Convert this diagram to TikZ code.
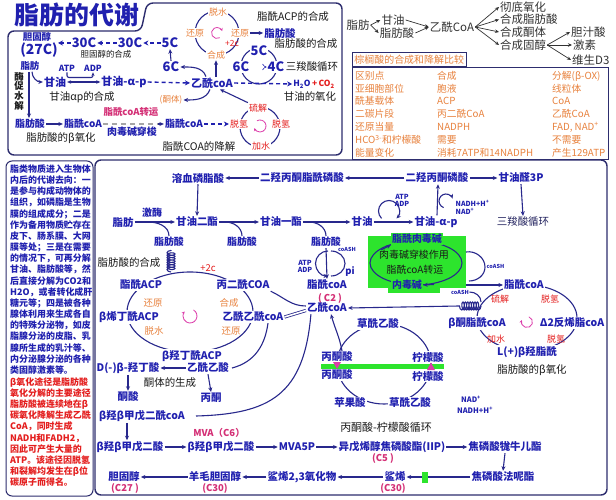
\documentclass[tikz,border=0pt]{standalone}
\usepackage{fontspec}
\setmainfont{Noto Sans CJK SC}
\usetikzlibrary{arrows.meta,calc,decorations.pathmorphing}
\definecolor{myblue}{RGB}{32,32,175}
\definecolor{lineblue}{RGB}{40,40,140}
\definecolor{myorange}{RGB}{232,130,62}
\definecolor{myred}{RGB}{228,30,30}
\definecolor{mypink}{RGB}{212,48,118}
\definecolor{mymag}{RGB}{220,60,170}
\definecolor{mygreen}{RGB}{45,228,45}
\definecolor{mytext}{RGB}{25,25,25}
\definecolor{mygray}{RGB}{50,50,50}
\definecolor{navy}{RGB}{35,35,95}
\definecolor{panelc}{RGB}{45,45,110}
\tikzset{
  bl/.style={text=myblue, font=\bfseries\fontsize{#1}{#1}\selectfont, inner sep=1bp},
  bl/.default=10.5,
  blk/.style={text=mytext, font=\fontsize{#1}{#1}\selectfont, inner sep=1bp},
  blk/.default=10.5,
  org/.style={text=myorange, font=\fontsize{#1}{#1}\selectfont, inner sep=1bp},
  org/.default=9,
  rd/.style={text=myred, font=\fontsize{#1}{#1}\selectfont, inner sep=1bp},
  rd/.default=9,
  pk/.style={text=mypink, font=\bfseries\fontsize{#1}{#1}\selectfont, inner sep=1bp},
  pk/.default=9.5,
  tn/.style={text=myblue, font=\bfseries\fontsize{#1}{#1}\selectfont, inner sep=0.5bp},
  tn/.default=6.5,
  gr/.style={text=mygray, font=\fontsize{11.5}{12}\selectfont, inner sep=1bp},
  tb/.style={text=myorange, font=\fontsize{9.8}{11}\selectfont, anchor=west, inner sep=0bp},
  lefttext/.style={font=\bfseries\fontsize{9}{11.2}\selectfont, align=left, anchor=north west, inner sep=0bp},
  conn/.style={draw=lineblue, line width=1.1bp},
  arr/.style={conn, -{Stealth[length=4.5bp,width=4bp]}},
  darr/.style={draw=myblue, line width=1.4bp, dash pattern=on 4bp off 3bp, -{Stealth[length=5bp,width=5bp]}},
  garr/.style={draw=mygray, line width=0.7bp, -{Stealth[length=4bp,width=3.5bp]}},
  panel/.style={draw=panelc, line width=1.4bp, rounded corners=6bp},
  magarr/.style={draw=mymag, line width=0.8bp, -{Stealth[length=3bp,width=3bp]}},
  dline/.style={draw=lineblue, double=white, double distance=1.6bp, line width=0.8bp},
  coilc/.style={conn, decorate, decoration={coil, aspect=0.45, segment length=2.4bp, amplitude=4bp}},
}
\begin{document}
\begin{tikzpicture}[x=1bp,y=1bp]
\useasboundingbox (0,0) rectangle (616,-500);
\fill[white] (0,0) rectangle (616,-500);

% ---------- panels ----------
\draw[panel] (8,-155) -- (8,-31) -- (141,-31) -- (147,-3) -- (342,-3) -- (342,-155) -- cycle;
\draw[panel] (95,-160) rectangle (607,-495);
\draw[panel, line width=1bp] (6,-161) rectangle (93,-496);

% ---------- title ----------
\node[bl=25] (title) at (77,-15) {脂肪的代谢};

% ---------- top-left panel ----------
\node[bl=9.5] (chol) at (37,-37) {胆固醇};
\node[bl=14] (c27) at (39,-50) {(27C)};
\node[bl=13] (c30a) at (84,-43) {30C};
\node[bl=13] (c30b) at (130,-43) {30C};
\node[bl=13] (c5) at (170,-43) {5C};
\node[blk=8.5] (cholsyn) at (106,-54) {胆固醇的合成};
\node[bl=13] (c6) at (171,-67) {6C};
\node[bl=9.5] (fat) at (30,-66) {脂肪};
\node[bl=8.5] (atp) at (67,-68) {ATP};
\node[bl=8.5] (adp) at (93,-68) {ADP};
\node[bl=11] (gly) at (55,-82) {甘油};
\node[bl=11] (glyp) at (124,-82) {甘油-α-p};
\node[bl=11] (acoa) at (212,-83) {乙酰coA};
\node[blk=10.5] (glypsyn) at (82,-97) {甘油αp的合成};
\node[text=mytext, font=\bfseries\fontsize{9.5}{9.7}\selectfont, align=center, inner sep=0bp] (enz) at (19,-91) {酶\\促\\水\\解};
\node[bl=10] (fa) at (30,-124) {脂肪酸};
\node[bl=10] (facoa1) at (83,-124) {脂酰coA};
\node[pk=9.5] (transp) at (131,-112) {脂酰coA转运};
\node[bl=10] (facoa2) at (184,-124) {脂酰coA};
\node[bl=10] (shuttle) at (132,-132) {肉毒碱穿梭};
\node[blk=10.5] (fabox) at (61,-138) {脂肪酸的β氧化};
\node[blk=10.5] (facoadeg) at (199,-147) {脂酰COA的降解};
\node[org=8.5] (ketone) at (171,-100) {(酮体)};

% fatty acid synthesis circle (top)
\draw[conn] (217,-33) circle [radius=22];
\node[org, fill=white] (dehyd) at (218,-12) {脱水};
\node[org, fill=white] (red1) at (195,-33) {还原};
\node[org, fill=white] (red2) at (240,-33) {还原};
\node[rd=8.5] (plus2c) at (232,-43) {+2c};
\node[org, fill=white] (syn) at (216,-55) {合成};
\draw[magarr] (217,-33) ++(300:5.5) arc[start angle=300, end angle=20, radius=5.5];
\node[bl=10.5] (fa2) at (280,-33) {脂肪酸};
\node[blk=10.5] (acpsyn) at (293,-17) {脂酰ACP的合成};
\node[blk=10.5] (fasyn) at (306,-44) {脂肪酸的合成};

% TCA small circle
\draw[conn] (259,-66) circle [radius=18];
\node[bl=13, fill=white] (t5c) at (259,-51) {5C};
\node[bl=13, fill=white] (t6c) at (241,-67) {6C};
\node[bl=13, fill=white] (t4c) at (276,-67) {4C};
\node[blk=10.5] (tca) at (312,-67) {三羧酸循环};
\node[bl=8.5] (h2o) at (314,-84) {H\textsubscript{2}O\,\textcolor{myred}{+\,CO\textsubscript{2}}};
\node[blk=10.5] (glyox) at (310,-97) {甘油的氧化};

% beta-oxidation circle (top)
\draw[conn] (260,-127) circle [radius=20];
\node[rd, fill=white] (thio) at (258,-108) {硫解};
\node[rd, fill=white] (tfdh1) at (239,-124) {脱氢};
\node[rd, fill=white] (tfdh2) at (281,-124) {脱氢};
\node[rd, fill=white] (hyd) at (261,-146) {加水};
\draw[magarr] (260,-126) ++(120:6) arc[start angle=120, end angle=-160, radius=6];

% top-left connectors
\draw[darr] (c30a.west) -- (58,-43);
\draw[darr] (c30b.west) -- (c30a.east);
\draw[darr] (c5.west) -- (c30b.east);
\draw[arr] (c6.north) -- (c5.south);
\draw[arr] ($(acoa.north)+(-6,0)$) to[out=110,in=0] (c6.east);
\draw[arr] ($(acoa.north)+(4,0)$) -- (syn.south);
\draw[arr] ($(acoa.south)+(-2,0)$) to[out=-110,in=0] (ketone.east);
\draw[arr] (thio.north west) -- ($(acoa.south)+(8,0)$);
\draw[darr] (acoa.east) -- (h2o.west);
\draw[darr] (glyp.east) -- (acoa.west);
\draw[arr] ($(fat.south)+(2,0)$) to[out=-90,in=180] (gly.west);
\draw[arr] ($(fat.south)+(-1,0)$) -- ($(fa.north)+(-1,0)$);
\draw[conn, {Stealth[length=4bp,width=3.5bp]}-{Stealth[length=4bp,width=3.5bp]}] (gly.east) -- (glyp.west);
\draw[conn, rounded corners=2bp, -{Stealth[length=3.5bp,width=3bp]}] (atp.south) |- (80,-77.5) -| (adp.south);
\draw[arr] (red2.east) -- (fa2.west);
\draw[arr] (fa.east) -- (facoa1.west);
\draw[draw=gray!70, line width=1.8bp, dash pattern=on 5bp off 4bp] (facoa1.east) -- ($(facoa2.west)+(-5,0)$);
\draw[arr] ($(facoa2.west)+(-6,0)$) -- (facoa2.west);
\draw[darr] (facoa2.east) -- (tfdh1.west);
\draw[draw=myblue, line width=0.6bp, double, double distance=1.5bp, -{Implies}] (t6c.east) -- (t4c.west);

% ---------- top-right overview ----------
\node[gr] (tfat) at (358,-25) {脂肪};
\node[gr] (tgly) at (393,-20) {甘油};
\node[gr] (tfa) at (397,-33) {脂肪酸};
\node[gr] (tacoa) at (452,-27) {乙酰CoA};
\node[gr, anchor=west] (o1) at (499,-7) {彻底氧化};
\node[gr, anchor=west] (o2) at (499,-19.5) {合成脂肪酸};
\node[gr, anchor=west] (o3) at (499,-32) {合成酮体};
\node[gr, anchor=west] (o4) at (499,-45) {合成固醇};
\node[gr, anchor=west] (p1) at (570,-32) {胆汁酸};
\node[gr, anchor=west] (p2) at (572,-45) {激素};
\node[gr, anchor=west] (p3) at (571,-60) {维生D3};
\draw[garr] (tfat.east) -- (tgly.west);
\draw[garr] (tfat.east) -- (tfa.west);
\draw[garr] (tgly.east) -- (tacoa.west);
\draw[garr] (tfa.east) -- (tacoa.west);
\draw[garr] (tacoa.east) -- (o1.west);
\draw[garr] (tacoa.east) -- (o2.west);
\draw[garr] (tacoa.east) -- (o3.west);
\draw[garr] (tacoa.east) -- (o4.west);
\draw[garr] (o4.east) -- (p1.west);
\draw[garr] (o4.east) -- (p2.west);
\draw[garr] (o4.east) -- (p3.west);

% ---------- comparison table ----------
\draw[draw=panelc, line width=0.9bp] (352,-67) rectangle (608,-159);
\node[draw=panelc, line width=0.8bp, text=myorange, font=\fontsize{10}{11}\selectfont, anchor=south west, inner sep=2bp, minimum height=14bp] (ttl) at (352,-67) {棕榈酸的合成和降解比较};
\node[tb] (r1a) at (355,-76) {区别点};
\node[tb] (r1b) at (437,-76) {合成};
\node[tb] (r1c) at (552,-76) {分解(β-OX)};
\node[tb] (r2a) at (355,-89) {亚细胞部位};
\node[tb] (r2b) at (437,-89) {胞液};
\node[tb] (r2c) at (552,-89) {线粒体};
\node[tb] (r3a) at (355,-101) {酰基载体};
\node[tb] (r3b) at (437,-101) {ACP};
\node[tb] (r3c) at (552,-101) {CoA};
\node[tb] (r4a) at (355,-114) {二碳片段};
\node[tb] (r4b) at (437,-114) {丙二酰CoA};
\node[tb] (r4c) at (552,-114) {乙酰CoA};
\node[tb] (r5a) at (355,-127) {还原当量};
\node[tb] (r5b) at (437,-127) {NADPH};
\node[tb] (r5c) at (552,-127) {FAD, NAD\textsuperscript{+}};
\node[tb] (r6a) at (355,-140) {HCO\textsuperscript{3-}和柠檬酸};
\node[tb] (r6b) at (437,-140) {需要};
\node[tb] (r6c) at (552,-140) {不需要};
\node[tb] (r7a) at (355,-153) {能量变化};
\node[tb] (r7b) at (437,-153) {消耗7ATP和14NADPH};
\node[tb] (r7c) at (552,-153) {产生129ATP};

% ---------- left text box ----------
\node[lefttext, text=myblue] (lt1) at (10,-164.5) {脂类物质进入生物体\\内后的代谢去向：一\\是参与构成动物体的\\组织，如磷脂是生物\\膜的组成成分；二是\\作为备用物质贮存在\\皮下、肠系膜、大网\\膜等处；三是在需要\\的情况下，可再分解\\甘油、脂肪酸等，然\\后直接分解为CO2和\\H2O，或者转化成肝\\糖元等；四是被各种\\腺体利用来生成各自\\的特殊分泌物，如皮\\脂腺分泌的皮脂、乳\\腺所生成的乳汁等、\\内分泌腺分泌的各种\\类固醇激素等。};
\node[lefttext, text=myred] (lt2) at (10,-377.3) {β氧化途径是脂肪酸\\氧化分解的主要途径\\脂肪酸被连续地在β\\碳氧化降解生成乙酰\\CoA，同时生成\\NADH和FADH2，\\因此可产生大量的\\ATP。该途径因脱氢\\和裂解均发生在β位\\碳原子而得名。};

% ---------- main panel: glycerol / TAG row ----------
\node[bl] (lyso) at (198,-178) {溶血磷脂酸};
\node[bl] (dhapacyl) at (302,-178) {二羟丙酮脂酰磷酸};
\node[bl] (dhap) at (437,-178) {二羟丙酮磷酸};
\node[bl] (g3p) at (521,-178) {甘油醛3P};
\node[text=navy, font=\fontsize{10.5}{10.5}\selectfont, inner sep=1bp] (tca2) at (523,-222) {三羧酸循环};
\node[bl] (fat2) at (123,-222) {脂肪};
\node[bl=10] (kinase) at (152,-213) {激酶};
\node[bl] (dag) at (197,-222) {甘油二酯};
\node[bl] (mag) at (281,-222) {甘油一酯};
\node[bl] (gly2) at (362,-222) {甘油};
\node[bl] (glyp2) at (436,-222) {甘油-α-p};
\node[bl=10] (faa) at (169,-242) {脂肪酸};
\node[bl=10] (fab) at (242,-242) {脂肪酸};
\node[bl=10] (fac) at (326,-242) {脂肪酸};
\node[tn=7] (atp2) at (402,-197) {ATP};
\node[tn=7] (adp2) at (402,-203.5) {ADP};
\node[tn=7, anchor=west] (nadh) at (455,-203) {NADH+H\textsuperscript{+}};
\node[tn=7, anchor=west] (nad) at (455,-211.5) {NAD\textsuperscript{+}};

\draw[arr] (dhapacyl.west) -- (lyso.east);
\draw[arr] (dhap.west) -- (dhapacyl.east);
\draw[arr] (dhap.east) -- (g3p.west);
\draw[arr] (g3p.south) -- (tca2.north);
\draw[arr] (lyso.south) -- (dag.north);
\draw[arr] (fat2.east) -- (dag.west);
\draw[arr] (dag.east) -- (mag.west);
\draw[arr] (mag.east) -- (gly2.west);
\draw[arr] (gly2.east) -- (glyp2.west);
\draw[arr] ($(glyp2.north)+(1,0)$) -- ($(dhap.south)+(1,0)$);
\draw[conn] (148,-222) to[out=0,in=90] (faa.north);
\draw[conn] (225,-222) to[out=0,in=90] (fab.north);
\draw[conn] (309,-222) to[out=0,in=90] (fac.north);
\draw[arr] (389,-211) ++(225:10.5) arc[start angle=225, end angle=-45, radius=10.5];
\draw[arr] (446,-201) ++(250:7) arc[start angle=250, end angle=20, radius=7];

% ---------- green carnitine box ----------
\fill[mygreen] (368,-236) rectangle (466,-288);
\fill[mygreen] (388,-286) rectangle (440,-293);
\draw[conn] (416,-263) ellipse [x radius=46, y radius=22];
\node[bl=10, fill=mygreen] (carn1) at (417,-239) {脂酰肉毒碱};
\node[blk=10] (cs1) at (414,-255) {肉毒碱穿梭作用};
\node[blk=10] (cs2) at (415,-270) {脂酰coA转运};
\node[bl=10, fill=mygreen] (carn2) at (407,-285) {内毒碱};
\draw[arr] (381,-250) -- (carn1.south west);
\draw[arr] (434,-284.5) -- (carn2.east);

% ---------- acyl-CoA activation ----------
\node[bl] (facoac2) at (327,-285) {脂酰coA};
\node[pk=9.5] (c2lab) at (330,-298) {( C2 )};
\node[bl] (acoa2) at (327,-308) {乙酰coA};
\node[tn=7] (atp3) at (305,-263) {ATP};
\node[tn=7] (adp3) at (305,-269.5) {ADP};
\node[tn=5.5] (coash1) at (347,-249) {coASH};
\node[bl=9.5] (pi) at (350,-272) {pi};
\draw[arr] (fac.south) -- (facoac2.north);
\draw[arr] (328,-251) arc[start angle=90, end angle=270, radius=12.5];
\draw[conn] (331,-251) arc[start angle=90, end angle=-90, x radius=14, y radius=12.5];
\draw[conn] (466,-252) to[out=10,in=90] (485,-267) to[out=-90,in=0] (469,-281);
\node[tn=5.5, anchor=west] (coash2) at (486,-266) {coASH};

% ---------- beta oxidation (bottom) ----------
\draw[conn] (527,-318) ellipse [x radius=50, y radius=33];
\node[bl, fill=white] (facoa3) at (524,-285) {脂酰coA};
\node[bl, fill=white] (bketo) at (477,-323) {β酮脂酰coA};
\node[bl, fill=white] (d2) at (572,-323) {Δ2反烯脂coA};
\node[bl, fill=white] (lhyd) at (527,-352) {L(+)β羟脂酰};
\node[rd] (b1) at (500,-299) {硫解};
\node[rd] (b2) at (550,-299) {脱氢};
\node[rd] (b3) at (496,-339) {加水};
\node[rd] (b4) at (556,-339) {脱氢};
\draw[magarr] (527,-322) ++(70:5.5) arc[start angle=70, end angle=-200, radius=5.5];
\node[blk=10.5] (boxlab) at (532,-370) {脂肪酸的β氧化};
\draw[arr] (466,-285) to[out=0,in=180] (facoa3.west);
\node[tn=5.5] (coash3) at (460,-292) {coASH};
\draw[conn] (coash3.east) to[out=0,in=90] (481,-302);
\draw[coilc] (481,-306) -- (459,-306);
\draw[arr] (459,-306) -- (acoa2.east);

% ---------- pyruvate-citrate cycle ----------
\draw[conn] (384,-364) ellipse [x radius=47, y radius=40];
\node[bl, fill=white] (oaa1) at (378,-324) {草酰乙酸};
\node[bl, fill=white] (cit1) at (428,-357) {柠檬酸};
\node[bl, fill=white] (cit2) at (428,-376) {柠檬酸};
\node[bl, fill=white] (pyr1) at (337,-357) {丙酮酸};
\node[bl, fill=white] (pyr2) at (337,-375) {丙酮酸};
\node[bl, fill=white] (oaa2) at (410,-403) {草酰乙酸};
\node[bl, fill=white] (mal) at (350,-403) {苹果酸};
\fill[mygreen] (321,-363.5) rectangle (444,-368.5);
\fill[mymag] (333,-362) -- (341,-362) -- (337,-369) -- cycle;
\fill[mymag] (427,-370) -- (435,-370) -- (431,-362.5) -- cycle;
\node[blk=11] (pclab) at (386,-427) {丙酮酸-柠檬酸循环};
\draw[arr] (342,-351) to[out=100,in=-75] ($(acoa2.south)+(4,0)$);
\node[tn=7.5] (nad2) at (471,-399) {NAD\textsuperscript{+}};
\node[tn=7.5] (nadh2) at (475,-410) {NADH+H\textsuperscript{+}};

% ---------- fatty acid synthesis (bottom) ----------
\node[blk=10.5] (fasyn2) at (129,-263) {脂肪酸的合成};
\draw[conn] (190,-312) ellipse [x radius=63, y radius=40];
\draw[coilc] (171,-272) -- (171,-250);
\node[bl, fill=white] (acp) at (141,-285) {酯酰ACP};
\node[bl, fill=white] (malcoa) at (243,-285) {丙二酰COA};
\node[bl, fill=white] (bacp) at (129,-317) {β烯丁酰ACP};
\node[bl, fill=white] (aacoa) at (253,-317) {乙酰乙酰coA};
\node[bl, fill=white] (bhacp) at (192,-356) {β羟丁酰ACP};
\node[rd=9.5] (p2c) at (208,-268) {+2c};
\node[org=9.5] (s1) at (153,-303) {还原};
\node[org=9.5] (s2) at (229,-303) {合成};
\node[org=9.5] (s3) at (154,-331) {脱水};
\node[org=9.5] (s4) at (231,-331) {还原};
\draw[magarr] (190,-316) ++(60:7) arc[start angle=60, end angle=-220, radius=7];
\draw[conn] (malcoa.south east) to[out=-25,in=180] ($(acoa2.west)+(0,2)$);
\draw[dline] (aacoa.east) -- ($(acoa2.west)+(0,-2.5)$);
\draw[conn] ($(acoa2.south west)+(5,0)$) .. controls (304,-395) and (270,-414) .. (196,-416);
\draw[conn] ($(aacoa.south)+(15,0)$) .. controls (265,-345) and (255,-362) .. (232,-368);

% ---------- ketone bodies ----------
\node[bl] (bhb) at (128,-368) {D(-)β-羟丁酸};
\node[bl] (aa) at (208,-368) {乙酰乙酸};
\node[blk=10.5] (ketsyn) at (170,-383) {酮体的生成};
\node[bl] (ka) at (128,-397) {酮酸};
\node[bl] (acetone) at (211,-398) {丙酮};
\draw[arr] (aa.west) -- (bhb.east);
\draw[arr] (bhb.south) -- (ka.north);
\draw[arr] (aa.south) -- (acetone.north);

% ---------- cholesterol synthesis ----------
\node[bl] (hmgcoa) at (142,-416) {β羟β甲戊二酰coA};
\node[bl] (hmg) at (130,-447) {β羟β甲戊二酸};
\node[bl] (mva) at (221,-447) {β羟β甲戊二酸};
\node[pk] (pmva) at (219,-433) {MVA（C6）};
\node[bl] (mva5p) at (297,-447) {MVA5P};
\node[bl] (ipp) at (392,-447) {异戊烯醇焦磷酸酯(IIP)};
\node[pk] (pc5) at (383,-458) {(C5 )};
\node[bl] (gpp) at (505,-447) {焦磷酸牻牛儿酯};
\node[bl] (fpp) at (503,-477) {焦磷酸法呢酯};
\node[bl] (sq) at (395,-477) {鲨烯};
\node[pk] (pc30a) at (393,-488.5) {(C30)};
\node[bl] (sqo) at (302,-477) {鲨烯2,3氧化物};
\node[bl] (lan) at (215,-477) {羊毛胆固醇};
\node[pk] (pc30b) at (215,-488.5) {(C30)};
\node[bl] (chol2) at (124,-477) {胆固醇};
\node[pk] (pc27) at (125,-488.5) {(C27 )};
\draw[arr] ($(hmgcoa.south)+(-15,0)$) -- ($(hmg.north)+(-3,0)$);
\draw[arr] (hmg.east) -- (mva.west);
\draw[arr] (mva.east) -- (mva5p.west);
\draw[arr] (mva5p.east) -- (ipp.west);
\draw[arr] (ipp.east) -- (gpp.west);
\draw[arr] (gpp.south) -- (fpp.north);
\draw[arr] (fpp.west) -- (sq.east);
\fill[mygreen] (422,-471.5) rectangle (428,-483);
\draw[arr] (sq.west) -- (sqo.east);
\draw[arr] (sqo.west) -- (lan.east);
\draw[arr] (lan.west) -- (chol2.east);
\end{tikzpicture}
\end{document}
